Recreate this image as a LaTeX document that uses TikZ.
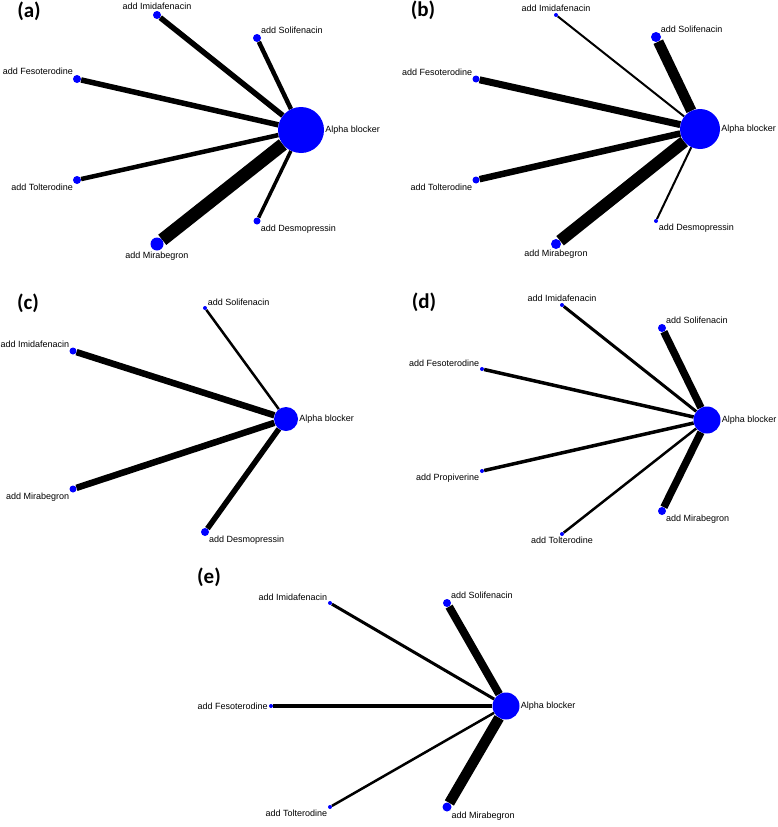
\documentclass[tikz,border=0pt]{standalone}
\usepackage{fontspec}
\setmainfont{Liberation Sans}
\newfontfamily\tagfont{Carlito}
\usetikzlibrary{backgrounds}
\tikzset{
  trt/.style={circle, fill=blue, inner sep=0pt, minimum size=#1},
  lbl/.style={font=\fontsize{9}{10}\selectfont, inner sep=1pt, text=black},
  link/.style={line width=#1},
  tag/.style={font=\tagfont\bfseries\fontsize{21}{23}\selectfont},
  every label/.style={lbl},
  label distance=0pt
}
\begin{document}
\begin{tikzpicture}[x=1pt,y=-1pt]
\useasboundingbox (0,0) rectangle (777,827);

% (a)
\node[tag] (ta) at (29,11) {(a)};
\node[trt=46, label={right:Alpha blocker}] (aAB) at (301,130) {};
\node[trt=8, label={above:add Imidafenacin}] (aIm) at (157,15) {};
\node[trt=8, label={above right:add Solifenacin}] (aSo) at (257,38) {};
\node[trt=8, label={above left:add Fesoterodine}] (aFe) at (77,79) {};
\node[trt=8, label={below left:add Tolterodine}] (aTo) at (77,180) {};
\node[trt=7, label={below right:add Desmopressin}] (aDe) at (257,221) {};
\node[trt=13, label={below:add Mirabegron}] (aMi) at (157,244) {};

% (b)
\node[tag] (tb) at (423,10) {(b)};
\node[trt=40, label={right:Alpha blocker}] (bAB) at (700,129) {};
\node[trt=4, label={above:add Imidafenacin}] (bIm) at (556,15) {};
\node[trt=10, label={above right:add Solifenacin}] (bSo) at (656,37) {};
\node[trt=7, label={above left:add Fesoterodine}] (bFe) at (476,79) {};
\node[trt=7, label={below left:add Tolterodine}] (bTo) at (476,180) {};
\node[trt=4, label={below right:add Desmopressin}] (bDe) at (656,221) {};
\node[trt=10, label={below:add Mirabegron}] (bMi) at (556,244) {};

% (c)
\node[tag] (tc) at (28,303) {(c)};
\node[trt=24, label={right:Alpha blocker}] (cAB) at (286,419) {};
\node[trt=4, label={above right:add Solifenacin}] (cSo) at (205,308) {};
\node[trt=7, label={above left:add Imidafenacin}] (cIm) at (73,351) {};
\node[trt=7, label={below left:add Mirabegron}] (cMi) at (73,489) {};
\node[trt=8, label={below right:add Desmopressin}] (cDe) at (205,532) {};

% (d)
\node[tag] (td) at (424,302) {(d)};
\node[trt=27, label={right:Alpha blocker}] (dAB) at (707,420) {};
\node[trt=4, label={above:add Imidafenacin}] (dIm) at (562,305) {};
\node[trt=8, label={above right:add Solifenacin}] (dSo) at (662,328) {};
\node[trt=4, label={above left:add Fesoterodine}] (dFe) at (482,369) {};
\node[trt=4, label={below left:add Propiverine}] (dPr) at (482,471) {};
\node[trt=4, label={below:add Tolterodine}] (dTo) at (562,534) {};
\node[trt=8, label={below right:add Mirabegron}] (dMi) at (662,511) {};

% (e)
\node[tag] (te) at (209,577) {(e)};
\node[trt=27, label={right:Alpha blocker}] (eAB) at (506,706) {};
\node[trt=4, label={above left:add Imidafenacin}] (eIm) at (330,603) {};
\node[trt=8, label={above right:add Solifenacin}] (eSo) at (447,603) {};
\node[trt=4, label={left:add Fesoterodine}] (eFe) at (271,706) {};
\node[trt=4, label={below left:add Tolterodine}] (eTo) at (330,807) {};
\node[trt=9, label={below right:add Mirabegron}] (eMi) at (447,807) {};

\begin{scope}[on background layer]
\draw[link=5.5] (aAB) -- (aIm);
\draw[link=4.5] (aAB) -- (aSo);
\draw[link=5.5] (aAB) -- (aFe);
\draw[link=4.5] (aAB) -- (aTo);
\draw[link=3.5] (aAB) -- (aDe);
\draw[link=13] (aAB) -- (aMi);

\draw[link=2] (bAB) -- (bIm);
\draw[link=10.5] (bAB) -- (bSo);
\draw[link=7] (bAB) -- (bFe);
\draw[link=6.5] (bAB) -- (bTo);
\draw[link=2] (bAB) -- (bDe);
\draw[link=12] (bAB) -- (bMi);

\draw[link=2.5] (cAB) -- (cSo);
\draw[link=6.5] (cAB) -- (cIm);
\draw[link=6.5] (cAB) -- (cMi);
\draw[link=5.5] (cAB) -- (cDe);

\draw[link=3] (dAB) -- (dIm);
\draw[link=7.5] (dAB) -- (dSo);
\draw[link=3.5] (dAB) -- (dFe);
\draw[link=3.5] (dAB) -- (dPr);
\draw[link=2.5] (dAB) -- (dTo);
\draw[link=7.5] (dAB) -- (dMi);

\draw[link=3] (eAB) -- (eIm);
\draw[link=8] (eAB) -- (eSo);
\draw[link=3.5] (eAB) -- (eFe);
\draw[link=2.5] (eAB) -- (eTo);
\draw[link=10.5] (eAB) -- (eMi);
\end{scope}
\end{tikzpicture}
\end{document}
